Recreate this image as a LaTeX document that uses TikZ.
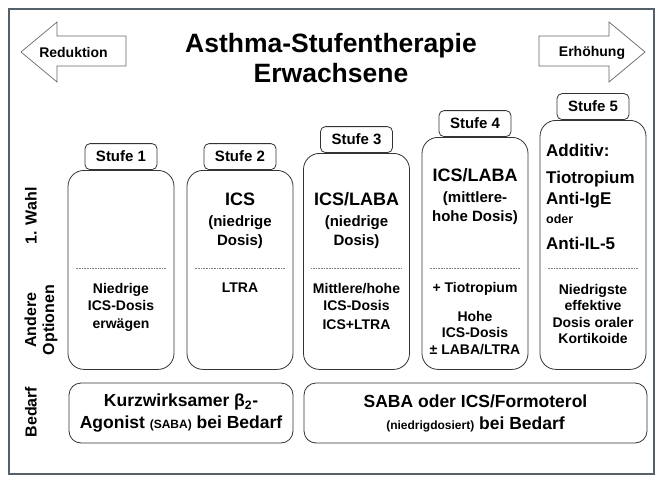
\documentclass[tikz,border=0pt]{standalone}
\usepackage{fontspec}
\setmainfont{Liberation Sans}

\definecolor{rahmen}{HTML}{56606B}

\begin{document}
\begin{tikzpicture}
[x=1pt,y=-1pt,every node/.style={font=\bfseries},
 saeule/.style={draw=black!80,line width=0.8pt,rounded corners=16pt,minimum width=106pt,anchor=north},
 stufe/.style={draw=black!80,line width=0.8pt,rounded corners=5pt,minimum width=72pt,minimum height=26pt,anchor=south,font=\bfseries\fontsize{15}{18}\selectfont},
 haupt/.style={align=center,inner sep=0pt,font=\bfseries\fontsize{15}{19}\selectfont},
 opt/.style={align=center,inner sep=0pt,font=\bfseries\fontsize{14}{16.5}\selectfont},
 bedarf/.style={draw=black!80,line width=0.8pt,rounded corners=12pt,minimum height=60pt,align=center,font=\bfseries\fontsize{17.5}{22}\selectfont},
 seite/.style={rotate=90,align=center,font=\bfseries\fontsize{16}{18}\selectfont},
 pfeil/.style={draw=black!60,fill=white,line width=0.7pt},
 pfeiltext/.style={font=\bfseries\fontsize{14}{16}\selectfont},
 trenn/.style={draw=black!50,line width=0.5pt,dash pattern=on 0.8pt off 0.8pt}]
\fill[white] (0,0) rectangle (668,484);
\useasboundingbox (0,0) rectangle (668,484);
\draw[rahmen,line width=2pt] (9,9) rectangle (654,474);
% Kopf
\node[align=center,font=\bfseries\fontsize{26.5}{30}\selectfont] (titel) at (331,58) {Asthma-Stufentherapie\\Erwachsene};
\draw[pfeil] (126,36) -- (57,36) -- (57,22) -- (21,52) -- (57,82) -- (57,66) -- (126,66) -- cycle;
\draw[pfeil] (539,36) -- (609,36) -- (609,22) -- (645,52) -- (609,82) -- (609,66) -- (539,66) -- cycle;
\node[pfeiltext] (red) at (73.5,52) {Reduktion};
\node[pfeiltext] (erh) at (592,53) {Erhöhung};
% Stufen
\node[saeule,minimum height=199pt] (s1) at (121,170) {};
\node[saeule,minimum height=199pt] (s2) at (240,170) {};
\node[saeule,minimum height=216pt] (s3) at (356.5,153) {};
\node[saeule,minimum height=232pt] (s4) at (475,137) {};
\node[saeule,minimum height=249pt] (s5) at (593,120) {};
\node[stufe] (k1) at (s1.north) {Stufe 1};
\node[stufe] (k2) at (s2.north) {Stufe 2};
\node[stufe] (k3) at (s3.north) {Stufe 3};
\node[stufe] (k4) at (s4.north) {Stufe 4};
\node[stufe] (k5) at (s5.north) {Stufe 5};
\draw[trenn] ([xshift=8pt]s1.west |- 0,268) -- ([xshift=-8pt]s1.east |- 0,268);
\draw[trenn] ([xshift=8pt]s2.west |- 0,268) -- ([xshift=-8pt]s2.east |- 0,268);
\draw[trenn] ([xshift=8pt]s3.west |- 0,268) -- ([xshift=-8pt]s3.east |- 0,268);
\draw[trenn] ([xshift=8pt]s4.west |- 0,268) -- ([xshift=-8pt]s4.east |- 0,268);
\draw[trenn] ([xshift=8pt]s5.west |- 0,268) -- ([xshift=-8pt]s5.east |- 0,268);
% 1. Wahl
\node[haupt] (w2) at (240,220.5) {{\fontsize{18}{19}\selectfont ICS}\\[2pt](niedrige\\Dosis)};
\node[haupt] (w3) at (356.5,221) {{\fontsize{18}{19}\selectfont ICS/LABA}\\[2pt](niedrige\\Dosis)};
\node[haupt] (w4) at (475,196.5) {{\fontsize{18}{19}\selectfont ICS/LABA}\\[2pt](mittlere-\\hohe Dosis)};
\node[haupt,align=left,anchor=north west,font=\bfseries\fontsize{17}{20}\selectfont] (w5) at (546,144) {Additiv:\\[7pt]Tiotropium\\[1pt]Anti-IgE\\[-1pt]{\fontsize{12.5}{12.5}\selectfont oder}\\[6pt]Anti-IL-5};
% andere Optionen
\node[opt] (o1) at (121,307) {Niedrige\\[1pt]ICS-Dosis\\[1pt]erwägen};
\node[opt] (o2) at (240,288) {LTRA};
\node[opt] (o3) at (356.5,306.5) {Mittlere/hohe\\ICS-Dosis\\[3pt]ICS+LTRA};
\node[opt] (o4) at (475,318.5) {+ Tiotropium\\[12.5pt]Hohe\\ICS-Dosis\\± LABA/LTRA};
\node[opt] (o5) at (593,314) {Niedrigste\\effektive\\Dosis oraler\\Kortikoide};
% Bedarf
\node[bedarf,minimum width=224pt] (b1) at (181,413) {Kurzwirksamer β\textsubscript{2}-\\Agonist {\fontsize{12}{12}\selectfont(SABA)} bei Bedarf};
\node[bedarf,minimum width=343pt] (b2) at (475.5,413) {SABA oder ICS/Formoterol\\{\fontsize{12}{12}\selectfont(niedrigdosiert)} bei Bedarf};
% Zeilen
\node[seite] (z1) at (31,216) {1. Wahl};
\node[seite] (z2) at (41,320) {Andere\\Optionen};
\node[seite] (z3) at (31,412) {Bedarf};
\end{tikzpicture}
\end{document}
